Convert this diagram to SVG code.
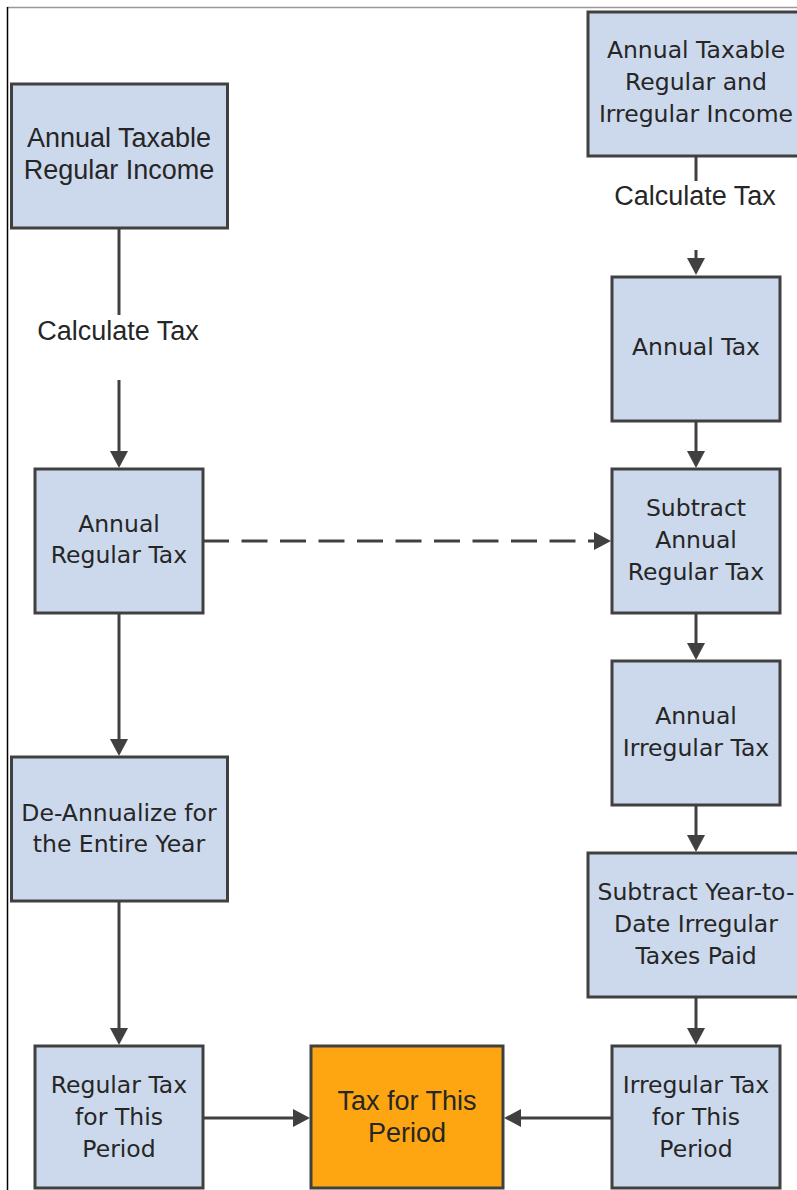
<svg xmlns="http://www.w3.org/2000/svg" width="797" height="1190" viewBox="0 0 797 1190">
<style>
.box{fill:#ccd9ec;stroke:#404040;stroke-width:3}
.hot{fill:#fea611;stroke:#404040;stroke-width:3}
.t{font-family:"DejaVu Sans",Verdana,sans-serif;font-size:23.5px;fill:#262626;text-anchor:middle}
.a{font-family:"Liberation Sans",Arial,sans-serif;font-size:27px;fill:#262626;text-anchor:middle}
.c{fill:none;stroke:#404040;stroke-width:3}
.d{fill:none;stroke:#404040;stroke-width:3;stroke-dasharray:26 12.5}
</style>
<defs>
<marker id="ah" markerUnits="userSpaceOnUse" markerWidth="18" markerHeight="18" refX="12" refY="9" orient="auto">
<path d="M0,0 L17,9 L0,18 Z" fill="#404040"/>
</marker>
</defs>
<rect x="0" y="0" width="797" height="1190" fill="#ffffff"/>
<line x1="7" y1="7.5" x2="797" y2="7.5" stroke="#999999" stroke-width="1.5"/>
<line x1="7.5" y1="7" x2="7.5" y2="1190" stroke="#000000" stroke-width="1.5"/>

<g id="connectors">
<line class="c" x1="119" y1="229" x2="119" y2="315"/>
<line class="c" x1="119" y1="380" x2="119" y2="463" marker-end="url(#ah)"/>
<line class="c" x1="119" y1="613" x2="119" y2="751" marker-end="url(#ah)"/>
<line class="c" x1="119" y1="901" x2="119" y2="1040" marker-end="url(#ah)"/>
<line class="c" x1="203" y1="1118" x2="305" y2="1118" marker-end="url(#ah)"/>
<line class="c" x1="612" y1="1118" x2="509" y2="1118" marker-end="url(#ah)"/>
<line class="d" x1="203" y1="541" x2="606" y2="541" marker-end="url(#ah)"/>
<line class="c" x1="696" y1="156" x2="696" y2="181"/>
<line class="c" x1="696" y1="250" x2="696" y2="270" marker-end="url(#ah)"/>
<line class="c" x1="696" y1="421" x2="696" y2="463" marker-end="url(#ah)"/>
<line class="c" x1="696" y1="613" x2="696" y2="655" marker-end="url(#ah)"/>
<line class="c" x1="696" y1="805" x2="696" y2="847" marker-end="url(#ah)"/>
<line class="c" x1="696" y1="997" x2="696" y2="1040" marker-end="url(#ah)"/>
<text class="a" x="118" y="340">Calculate Tax</text>
<text class="a" x="695" y="205">Calculate Tax</text>
</g>

<g id="annual-taxable-regular-income">
<rect class="box" x="11.5" y="84" width="216" height="144"/>
<text class="a" x="119" y="147">Annual Taxable</text>
<text class="a" x="119" y="179">Regular Income</text>
</g>

<g id="annual-regular-tax">
<rect class="box" x="35" y="469" width="168" height="144"/>
<text class="t" x="119" y="532">Annual</text>
<text class="t" x="119" y="563">Regular Tax</text>
</g>

<g id="de-annualize">
<rect class="box" x="11.5" y="757" width="216" height="144"/>
<text class="t" x="119" y="821">De-Annualize for</text>
<text class="t" x="119" y="852">the Entire Year</text>
</g>

<g id="regular-tax-period">
<rect class="box" x="35" y="1046" width="168" height="142"/>
<text class="t" x="119" y="1093">Regular Tax</text>
<text class="t" x="119" y="1125">for This</text>
<text class="t" x="119" y="1157">Period</text>
</g>

<g id="tax-for-this-period">
<rect class="hot" x="311" y="1046" width="192" height="142"/>
<text class="a" x="407" y="1110">Tax for This</text>
<text class="a" x="407" y="1142">Period</text>
</g>

<g id="annual-taxable-regular-irregular-income">
<rect class="box" x="588" y="12" width="216" height="144"/>
<text class="t" x="696" y="58">Annual Taxable</text>
<text class="t" x="696" y="90">Regular and</text>
<text class="t" x="696" y="122">Irregular Income</text>
</g>

<g id="annual-tax">
<rect class="box" x="612" y="277" width="168" height="144"/>
<text class="t" x="696" y="355">Annual Tax</text>
</g>

<g id="subtract-annual-regular-tax">
<rect class="box" x="612" y="469" width="168" height="144"/>
<text class="t" x="696" y="516">Subtract</text>
<text class="t" x="696" y="548">Annual</text>
<text class="t" x="696" y="580">Regular Tax</text>
</g>

<g id="annual-irregular-tax">
<rect class="box" x="612" y="661" width="168" height="144"/>
<text class="t" x="696" y="724">Annual</text>
<text class="t" x="696" y="756">Irregular Tax</text>
</g>

<g id="subtract-ytd-irregular">
<rect class="box" x="588" y="853" width="216" height="144"/>
<text class="t" x="696" y="900">Subtract Year-to-</text>
<text class="t" x="696" y="932">Date Irregular</text>
<text class="t" x="696" y="964">Taxes Paid</text>
</g>

<g id="irregular-tax-period">
<rect class="box" x="612" y="1046" width="168" height="142"/>
<text class="t" x="696" y="1093">Irregular Tax</text>
<text class="t" x="696" y="1125">for This</text>
<text class="t" x="696" y="1157">Period</text>
</g>
</svg>
